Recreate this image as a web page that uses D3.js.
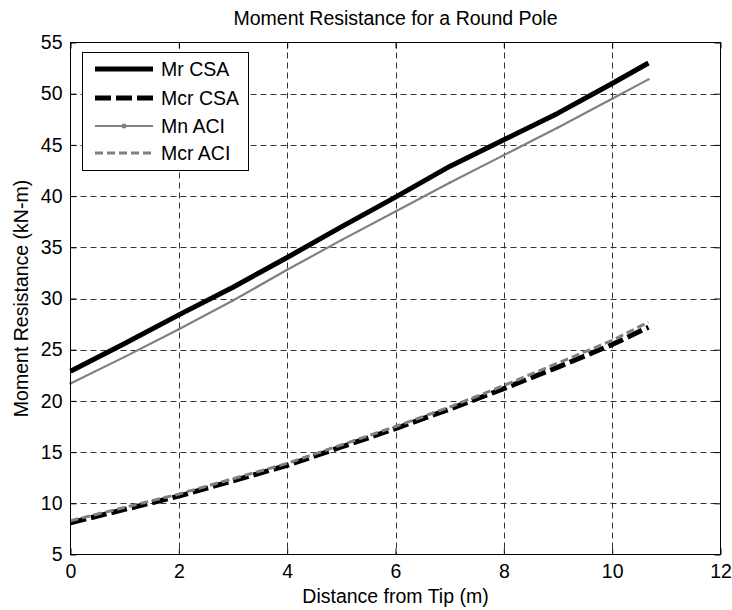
<!DOCTYPE html>
<html>
<head>
<meta charset="utf-8">
<script src="https://cdn.jsdelivr.net/npm/d3@7"></script>
<style>
  html, body { margin: 0; padding: 0; background: #fff; }
  svg { display: block; font-family: Arial, "Liberation Sans", Helvetica, sans-serif; }
</style>
</head>
<body>
<svg id="chart" width="732" height="610"></svg>
<script>
// Moment resistance along the pole, sampled every metre from the tip
const distance = [0, 1, 2, 3, 4, 5, 6, 7, 8, 9, 10, 10.67];
const mrCSA  = [22.9, 25.6, 28.4, 31.1, 34.0, 37.0, 39.9, 42.9, 45.5, 48.1, 51.0, 53.0];
const mcrCSA = [8.1, 9.4, 10.7, 12.2, 13.7, 15.5, 17.3, 19.2, 21.2, 23.3, 25.5, 27.2];
const mnACI  = [21.7, 24.3, 27.0, 29.8, 32.8, 35.7, 38.5, 41.3, 44.0, 46.7, 49.5, 51.4];
const mcrACI = [8.3, 9.6, 10.9, 12.4, 13.9, 15.7, 17.5, 19.4, 21.5, 23.7, 25.9, 27.7];

const xTicks = [0, 2, 4, 6, 8, 10, 12];
const yTicks = [5, 10, 15, 20, 25, 30, 35, 40, 45, 50, 55];

const seriesNames = ["Mr CSA", "Mcr CSA", "Mn ACI", "Mcr ACI"];

const styles = {
  "Mr CSA":  { color: "#000", width: 5, dash: null, marker: false },
  "Mcr CSA": { color: "#000", width: 5, dash: "16,5", marker: false },
  "Mn ACI":  { color: "#808080", width: 2.2, dash: null, marker: true },
  "Mcr ACI": { color: "#808080", width: 3, dash: "8,4", marker: false }
};

const seriesValues = { "Mr CSA": mrCSA, "Mcr CSA": mcrCSA, "Mn ACI": mnACI, "Mcr ACI": mcrACI };

const svg = d3.select("#chart");
const plotLeft = 70.5, plotRight = 720.5, plotTop = 42.5, plotBottom = 554.5;
const fontSize = 19.5;

const x = d3.scaleLinear().domain([0, 12]).range([plotLeft, plotRight]);
const y = d3.scaleLinear().domain([5, 55]).range([plotBottom, plotTop]);

// Dashed grid
const grid = svg.append("g").attr("stroke", "#333").attr("stroke-width", 1)
  .attr("stroke-dasharray", "6,4").attr("fill", "none");
grid.selectAll("line.v").data(xTicks.slice(1, -1)).join("line")
  .attr("x1", d => Math.round(x(d)) + 0.5).attr("x2", d => Math.round(x(d)) + 0.5)
  .attr("y1", plotTop).attr("y2", plotBottom);
grid.selectAll("line.h").data(yTicks.slice(1, -1)).join("line")
  .attr("y1", d => Math.round(y(d)) + 0.5).attr("y2", d => Math.round(y(d)) + 0.5)
  .attr("x1", plotLeft).attr("x2", plotRight);

// Axes with inward ticks on all four sides
const tickLen = 6;
const xBottom = svg.append("g").attr("transform", `translate(0,${plotBottom})`)
  .call(d3.axisBottom(x).tickValues(xTicks).tickSizeInner(-tickLen).tickSizeOuter(0).tickPadding(10));
const xTopAxis = svg.append("g").attr("transform", `translate(0,${plotTop})`)
  .call(d3.axisTop(x).tickValues(xTicks).tickSizeInner(-tickLen).tickSizeOuter(0).tickFormat(""));
const yLeft = svg.append("g").attr("transform", `translate(${plotLeft},0)`)
  .call(d3.axisLeft(y).tickValues(yTicks).tickSizeInner(-tickLen).tickSizeOuter(0).tickPadding(8));
const yRight = svg.append("g").attr("transform", `translate(${plotRight},0)`)
  .call(d3.axisRight(y).tickValues(yTicks).tickSizeInner(-tickLen).tickSizeOuter(0).tickFormat(""));

[xBottom, xTopAxis, yLeft, yRight].forEach(g => {
  g.select(".domain").remove();
  g.selectAll(".tick line").attr("stroke", "#000");
  g.selectAll("text").attr("font-size", fontSize).attr("fill", "#000")
    .attr("font-family", "Arial, 'Liberation Sans', sans-serif");
});

// Series
const line = d3.line().x((d, i) => x(distance[i])).y(d => y(d));
const plot = svg.append("g");
seriesNames.forEach(name => {
  const s = styles[name];
  plot.append("path").datum(seriesValues[name])
    .attr("d", line).attr("fill", "none")
    .attr("stroke", s.color).attr("stroke-width", s.width)
    .attr("stroke-dasharray", s.dash).attr("stroke-linejoin", "round");
  if (s.marker) {
    plot.selectAll(null).data(seriesValues[name]).join("circle")
      .attr("cx", (d, i) => x(distance[i])).attr("cy", d => y(d))
      .attr("r", 1.2).attr("fill", s.color);
  }
});

// Axes box
svg.append("rect").attr("x", plotLeft).attr("y", plotTop)
  .attr("width", plotRight - plotLeft).attr("height", plotBottom - plotTop)
  .attr("fill", "none").attr("stroke", "#000").attr("stroke-width", 1);

// Legend
const leg = svg.append("g");
leg.append("rect").attr("x", 82.5).attr("y", 52.5).attr("width", 166).attr("height", 118)
  .attr("fill", "#fff").attr("stroke", "#000").attr("stroke-width", 1);
const legRows = [69, 98, 126, 153];
seriesNames.forEach((name, i) => {
  const s = styles[name];
  const yy = legRows[i];
  leg.append("line").attr("x1", 95).attr("x2", 153).attr("y1", yy).attr("y2", yy)
    .attr("stroke", s.color).attr("stroke-width", s.width).attr("stroke-dasharray", s.dash);
  if (s.marker) {
    leg.append("circle").attr("cx", 124).attr("cy", yy).attr("r", 2.5).attr("fill", s.color);
  }
  leg.append("text").attr("x", 161).attr("y", yy).attr("dy", "0.35em")
    .attr("font-size", fontSize).text(name);
});

// Titles
svg.append("text").attr("x", (plotLeft + plotRight) / 2).attr("y", 25)
  .attr("text-anchor", "middle").attr("font-size", fontSize)
  .text("Moment Resistance for a Round Pole");
svg.append("text").attr("x", (plotLeft + plotRight) / 2).attr("y", 603)
  .attr("text-anchor", "middle").attr("font-size", fontSize)
  .text("Distance from Tip (m)");
svg.append("text").attr("transform", `translate(28,${(plotTop + plotBottom) / 2}) rotate(-90)`)
  .attr("text-anchor", "middle").attr("font-size", fontSize)
  .text("Moment Resistance (kN-m)");
</script>
</body>
</html>
